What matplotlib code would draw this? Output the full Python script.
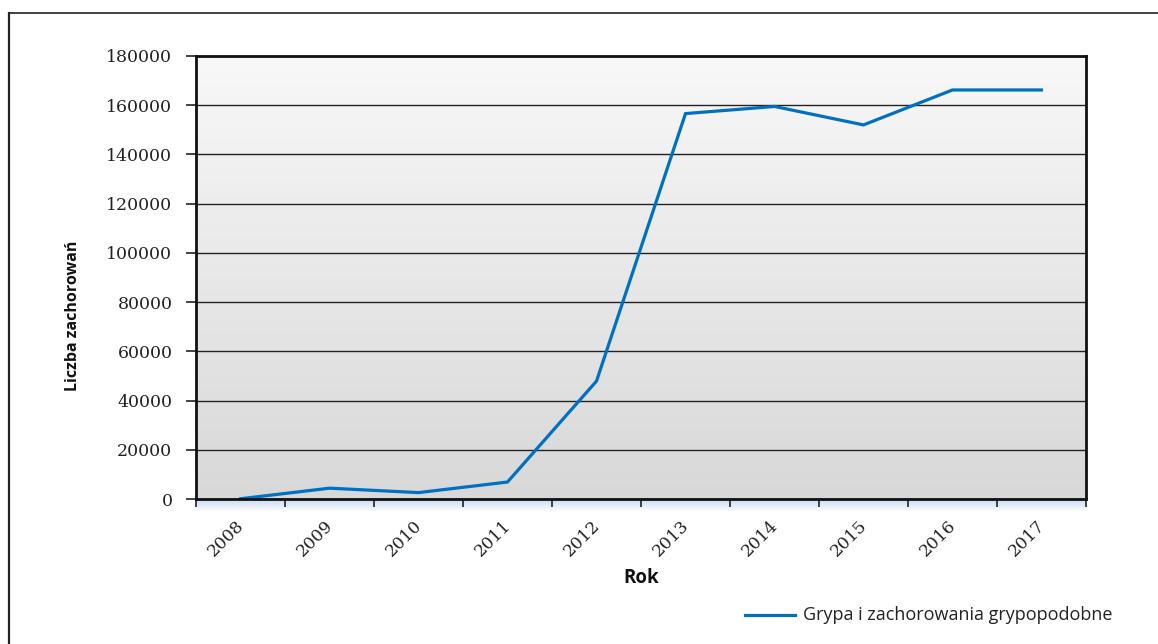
import numpy as np
import matplotlib
matplotlib.use('Agg')
import matplotlib.pyplot as plt
from matplotlib.lines import Line2D
import matplotlib.transforms as mtransforms

years = ['2008', '2009', '2010', '2011', '2012', '2013', '2014', '2015', '2016', '2017']
cases = [100, 4400, 2600, 6900, 47900, 156600, 159500, 152000, 166200, 166200]
series_name = 'Grypa i zachorowania grypopodobne'

line_color = '#0070c0'

fig = plt.figure(figsize=(11.58, 6.44), dpi=100)
fig.patch.set_facecolor('white')

# outer chart frame (top and left edges only)
fig.add_artist(Line2D([9 / 1158, 1.0], [1 - 13 / 644, 1 - 13 / 644], color='#222222', lw=1.2))
fig.add_artist(Line2D([9 / 1158, 9 / 1158], [0.0, 1 - 13 / 644], color='#222222', lw=1.6))

ax = fig.add_axes([196 / 1158, 1 - 499 / 644, 890 / 1158, 443 / 644])

# grey vertical gradient behind the plot area
grad = np.linspace(0, 1, 256).reshape(-1, 1)
ax.imshow(grad, extent=[0, 1, 0, 1], transform=ax.transAxes, aspect='auto',
          cmap=matplotlib.colors.LinearSegmentedColormap.from_list('bg', ['#f8f8f8', '#d8d8d8']),
          zorder=0, origin='upper')

# soft blue glow under the x axis
glow_ax = fig.add_axes([196 / 1158, 1 - 512 / 644, 890 / 1158, 12 / 644], zorder=-1)
glow = np.ones((32, 2, 4))
glow[..., 0] = 0.80
glow[..., 1] = 0.87
glow[..., 2] = 0.96
glow[..., 3] = np.linspace(1, 0, 32).reshape(-1, 1)
glow_ax.imshow(glow, extent=[0, 1, 0, 1], aspect='auto')
glow_ax.axis('off')

x = np.arange(len(years))
ax.plot(x, cases, color=line_color, lw=2.3, zorder=3, label=series_name,
        solid_joinstyle='miter')

ax.set_xlim(-0.5, len(years) - 0.5)
ax.set_ylim(0, 180000)
ax.set_yticks(np.arange(0, 180001, 20000))
ax.set_yticklabels([str(v) for v in range(0, 180001, 20000)])

# category boundaries carry the tick marks, labels sit on the centres
ax.set_xticks(np.arange(-0.5, len(years)), minor=False)
ax.set_xticklabels([''] * (len(years) + 1))
ax.set_xticks(x, minor=True)
ax.set_xticklabels(years, minor=True, rotation=45, ha='right', rotation_mode='anchor',
                   family='DejaVu Serif', fontsize=12.3, color='#222222')
ax.tick_params(axis='x', which='minor', length=0, pad=13)
ax.tick_params(axis='x', which='major', length=6, width=1.2, color='#222222')
ax.tick_params(axis='y', length=7, width=1.2, color='#222222', pad=10)
for lbl in ax.get_yticklabels():
    lbl.set_family('DejaVu Serif')
    lbl.set_fontsize(12.5)
    lbl.set_color('#222222')

offset = mtransforms.ScaledTranslation(-5 / 100, 0, fig.dpi_scale_trans)
for lbl in ax.get_xticklabels(minor=True):
    lbl.set_transform(lbl.get_transform() + offset)

ax.grid(axis='y', color='#222222', lw=1.0, zorder=1)
ax.set_axisbelow(False)
for spine in ax.spines.values():
    spine.set_color('#111111')
    spine.set_linewidth(2.0)
    spine.set_zorder(4)

ax.text(0.5, -0.178, 'Rok', transform=ax.transAxes, ha='center', va='center',
        family='Open Sans', fontweight='bold', fontsize=13.5, color='#111111')
ax.text(-0.138, 0.413, 'Liczba zachorowań', transform=ax.transAxes, ha='center', va='center',
        rotation=90, family='Open Sans', fontweight='bold', fontsize=11.5, color='#111111')

# legend in the lower right corner of the frame
fig.add_artist(Line2D([745 / 1158, 795 / 1158], [1 - 615 / 644, 1 - 615 / 644],
                      color=line_color, lw=2.3))
fig.text(803 / 1158, 1 - 615 / 644, series_name, ha='left', va='center',
         family='Open Sans', fontsize=13, color='#222222')

fig.savefig('out.png', dpi=100)
